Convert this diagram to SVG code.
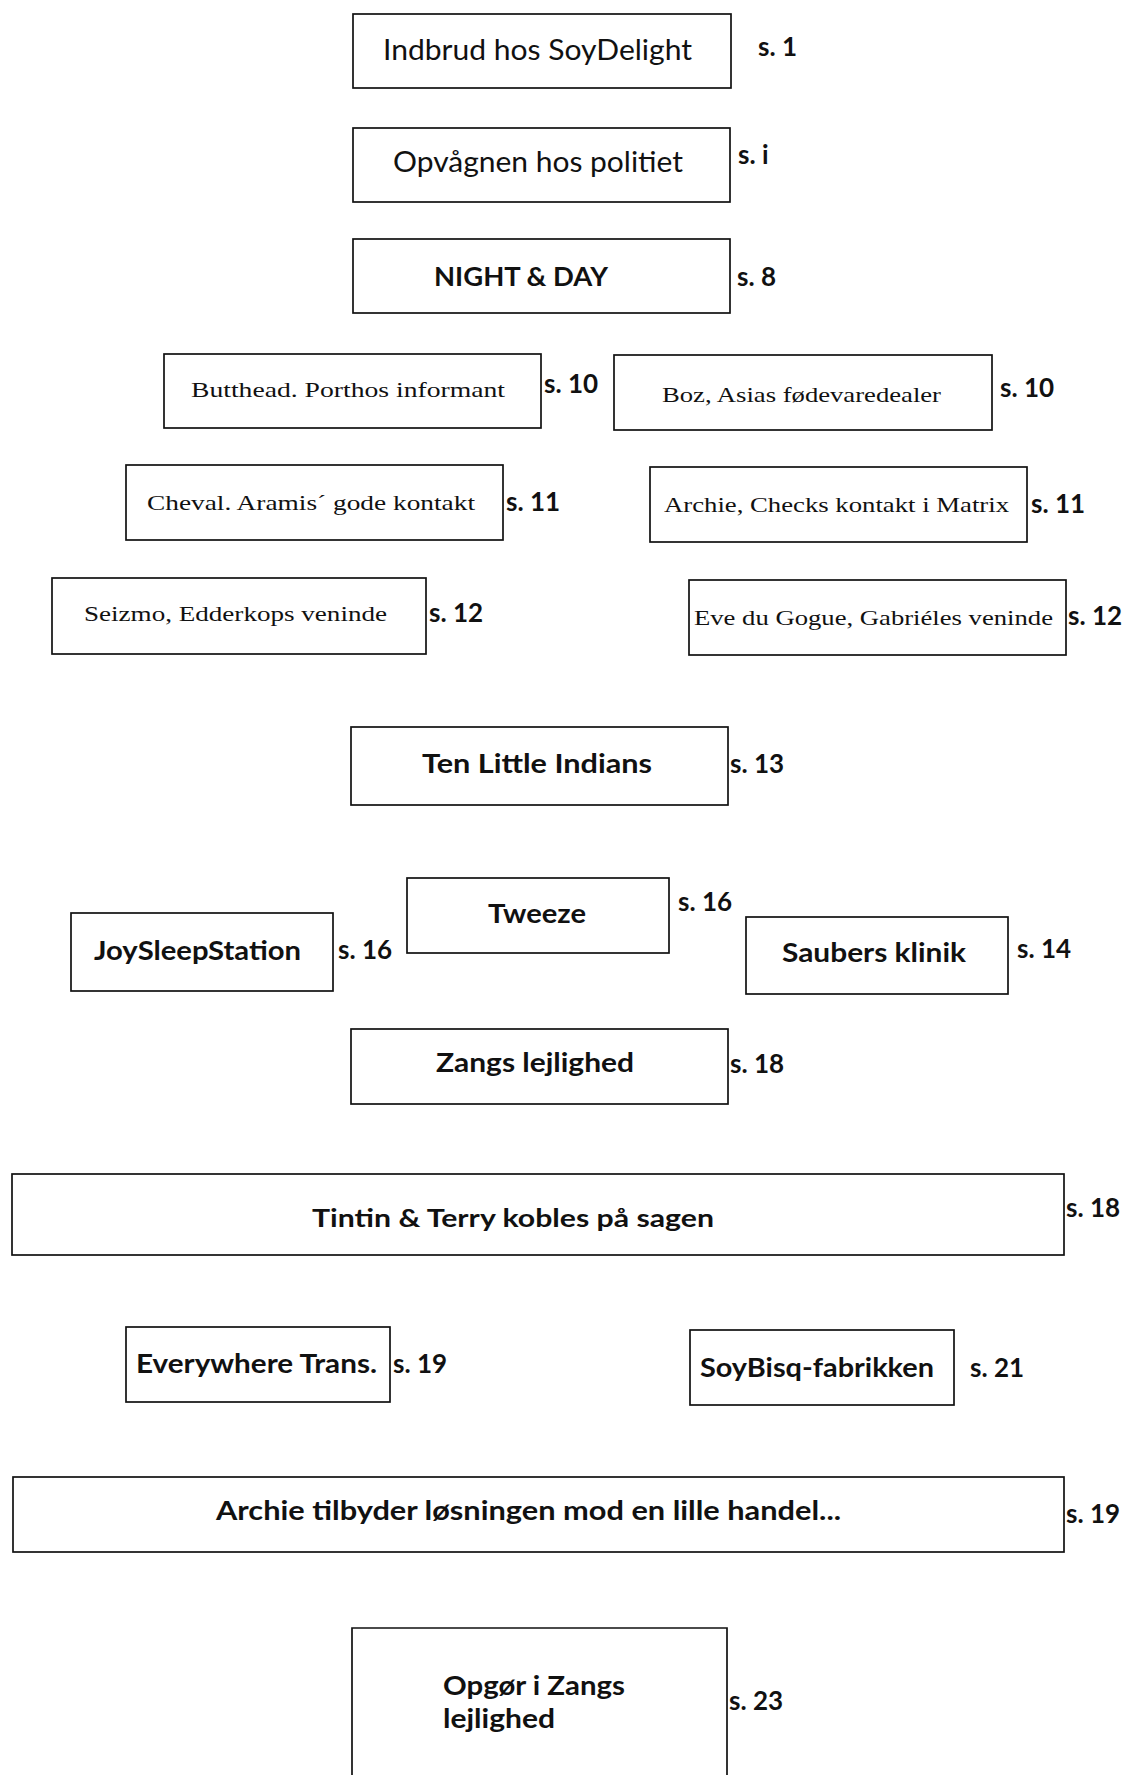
<svg xmlns="http://www.w3.org/2000/svg" width="1131" height="1775" viewBox="0 0 1131 1775">
<style>
.box{fill:#fff;stroke:#111;stroke-width:1.7}
.sans{font-family:Lato,"Liberation Sans",sans-serif;fill:#111}
.serif{font-family:"Liberation Serif","DejaVu Serif",serif;fill:#111}
.b{font-weight:700}
.pg{font-family:Lato,"Liberation Sans",sans-serif;font-weight:700;fill:#111;font-size:26px}
</style>
<rect width="1131" height="1775" fill="#fff"/>
<g id="connectors"/>
<g id="n1"><rect class="box" x="353" y="14" width="378" height="74"/><text class="sans" x="383" y="60" font-size="28" textLength="309" lengthAdjust="spacingAndGlyphs">Indbrud hos SoyDelight</text><text class="pg" x="758" y="56">s. 1</text></g>
<g id="n2"><rect class="box" x="353" y="128" width="377" height="74"/><text class="sans" x="393" y="172" font-size="28" textLength="290" lengthAdjust="spacingAndGlyphs">Opvågnen hos politiet</text><text class="pg" x="738" y="164">s. i</text></g>
<g id="n3"><rect class="box" x="353" y="239" width="377" height="74"/><text class="sans b" x="434" y="286" font-size="27" textLength="174" lengthAdjust="spacingAndGlyphs">NIGHT &amp; DAY</text><text class="pg" x="737" y="286" font-size="28">s. 8</text></g>
<g id="n4"><rect class="box" x="164" y="354" width="377" height="74"/><text class="serif" x="191" y="397" font-size="22" textLength="314" lengthAdjust="spacingAndGlyphs">Butthead. Porthos informant</text><text class="pg" x="544" y="393">s. 10</text></g>
<g id="n5"><rect class="box" x="614" y="355" width="378" height="75"/><text class="serif" x="662" y="402" font-size="22" textLength="279" lengthAdjust="spacingAndGlyphs">Boz, Asias fødevaredealer</text><text class="pg" x="1000" y="397">s. 10</text></g>
<g id="n6"><rect class="box" x="126" y="465" width="377" height="75"/><text class="serif" x="147" y="510" font-size="22" textLength="328" lengthAdjust="spacingAndGlyphs">Cheval. Aramis´ gode kontakt</text><text class="pg" x="506" y="511">s. 11</text></g>
<g id="n7"><rect class="box" x="650" y="467" width="377" height="75"/><text class="serif" x="664" y="512" font-size="22" textLength="345" lengthAdjust="spacingAndGlyphs">Archie, Checks kontakt i Matrix</text><text class="pg" x="1031" y="513">s. 11</text></g>
<g id="n8"><rect class="box" x="52" y="578" width="374" height="76"/><text class="serif" x="84" y="621" font-size="22" textLength="303" lengthAdjust="spacingAndGlyphs">Seizmo, Edderkops veninde</text><text class="pg" x="429" y="622">s. 12</text></g>
<g id="n9"><rect class="box" x="689" y="580" width="377" height="75"/><text class="serif" x="694" y="625" font-size="22" textLength="359" lengthAdjust="spacingAndGlyphs">Eve du Gogue, Gabriéles veninde</text><text class="pg" x="1068" y="625">s. 12</text></g>
<g id="n10"><rect class="box" x="351" y="727" width="377" height="78"/><text class="sans b" x="422" y="773" font-size="27" textLength="230" lengthAdjust="spacingAndGlyphs">Ten Little Indians</text><text class="pg" x="730" y="773">s. 13</text></g>
<g id="n11"><rect class="box" x="407" y="878" width="262" height="75"/><text class="sans b" x="488" y="923" font-size="27" textLength="98" lengthAdjust="spacingAndGlyphs">Tweeze</text><text class="pg" x="678" y="911">s. 16</text></g>
<g id="n12"><rect class="box" x="71" y="913" width="262" height="78"/><text class="sans b" x="94" y="960" font-size="27" textLength="207" lengthAdjust="spacingAndGlyphs">JoySleepStation</text><text class="pg" x="338" y="959">s. 16</text></g>
<g id="n13"><rect class="box" x="746" y="917" width="262" height="77"/><text class="sans b" x="782" y="962" font-size="27" textLength="184" lengthAdjust="spacingAndGlyphs">Saubers klinik</text><text class="pg" x="1017" y="958">s. 14</text></g>
<g id="n14"><rect class="box" x="351" y="1029" width="377" height="75"/><text class="sans b" x="436" y="1072" font-size="27" textLength="198" lengthAdjust="spacingAndGlyphs">Zangs lejlighed</text><text class="pg" x="730" y="1073">s. 18</text></g>
<g id="n15"><rect class="box" x="12" y="1174" width="1052" height="81"/><text class="sans b" x="312" y="1227" font-size="25" textLength="402" lengthAdjust="spacingAndGlyphs">Tintin &amp; Terry kobles på sagen</text><text class="pg" x="1066" y="1217">s. 18</text></g>
<g id="n16"><rect class="box" x="126" y="1327" width="264" height="75"/><text class="sans b" x="136" y="1373" font-size="26" textLength="241" lengthAdjust="spacingAndGlyphs">Everywhere Trans.</text><text class="pg" x="393" y="1373">s. 19</text></g>
<g id="n17"><rect class="box" x="690" y="1330" width="264" height="75"/><text class="sans b" x="700" y="1377" font-size="26" textLength="234" lengthAdjust="spacingAndGlyphs">SoyBisq-fabrikken</text><text class="pg" x="970" y="1377">s. 21</text></g>
<g id="n18"><rect class="box" x="13" y="1477" width="1051" height="75"/><text class="sans b" x="216" y="1520" font-size="26" textLength="625" lengthAdjust="spacingAndGlyphs">Archie tilbyder løsningen mod en lille handel...</text><text class="pg" x="1066" y="1523">s. 19</text></g>
<g id="n19"><path d="M352 1790 V1628 H727 V1790" fill="#fff" stroke="#111" stroke-width="1.7"/><text class="sans b" x="443" y="1695" font-size="26" textLength="182" lengthAdjust="spacingAndGlyphs">Opgør i Zangs</text><text class="sans b" x="443" y="1728" font-size="26" textLength="112" lengthAdjust="spacingAndGlyphs">lejlighed</text><text class="pg" x="729" y="1710">s. 23</text></g>
</svg>
